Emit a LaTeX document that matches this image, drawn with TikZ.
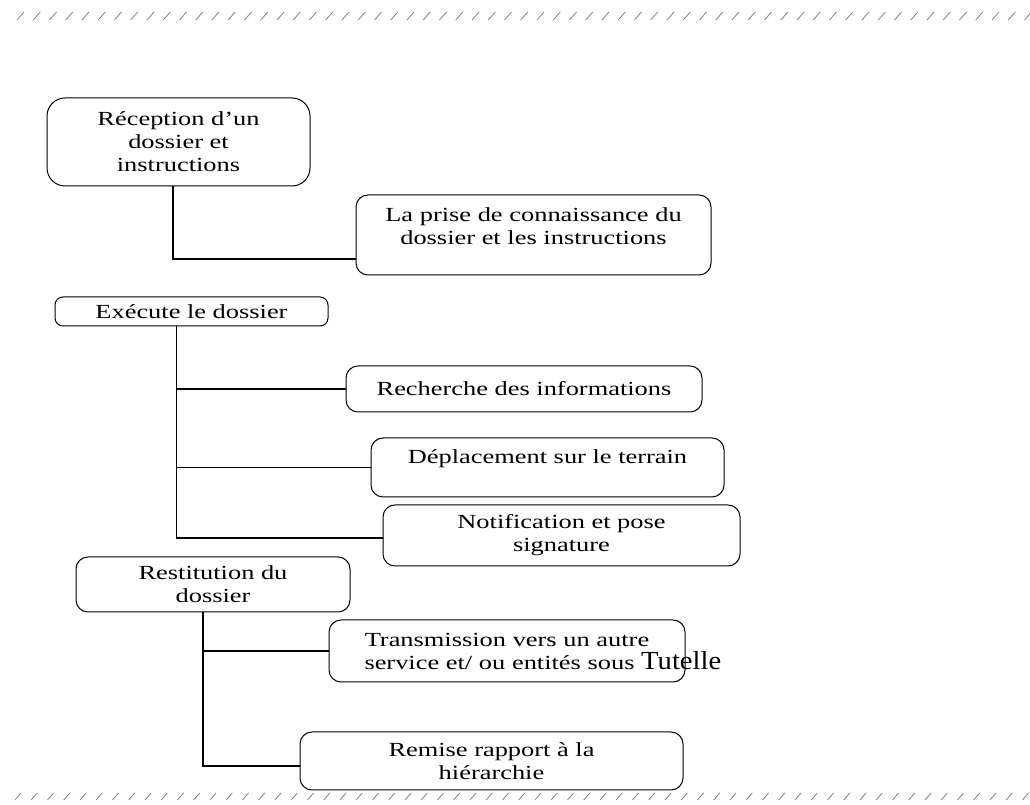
\documentclass[tikz,border=0pt]{standalone}
\usepackage{fontspec}
\setmainfont[FakeStretch=1.32]{Liberation Serif}
\newfontfamily\tutfont[FakeStretch=1.1]{Liberation Serif}
\usetikzlibrary{calc}

\begin{document}
\begin{tikzpicture}[x=1pt,y=1pt]
  \tikzset{box/.style={draw, rounded corners=12pt, align=center, inner sep=0pt, line width=1pt,
                       font=\fontsize{20}{23}\selectfont},
           lift/.style={text height=14pt, text depth=#1},
           link/.style={line width=1.3pt},
           hatch/.style={gray, line width=0.8pt}}
  \useasboundingbox (0,0) rectangle (1030,805);
  % page border rows
  \foreach \i in {0,...,62} {
    \draw[hatch] (17+16.25*\i,785) -- ++(7,8);
    \draw[hatch] (15+16.25*\i,5) -- ++(6,7);
  }
  % boxes
  \node[box, rounded corners=18pt, minimum width=263, minimum height=88] (recep) at (178.5,663) {Réception d’un\\dossier et\\instructions};
  \node[box, minimum width=355, minimum height=80, text width=330pt, lift=40pt] (prise) at (533.5,570) {La prise de connaissance du\\dossier et les instructions};
  \node[box, rounded corners=8pt, minimum width=273, minimum height=29] (exec) at (191.5,493.5) {Exécute le dossier};
  \node[box, minimum width=356, minimum height=46] (rech) at (524,416) {Recherche des informations};
  \node[box, minimum width=353, minimum height=59, lift=22pt] (depl) at (547.5,337.5) {Déplacement sur le terrain};
  \node[box, minimum width=357, minimum height=61] (notif) at (561.5,269.5) {Notification et pose\\signature};
  \node[box, minimum width=274, minimum height=55] (resti) at (213,220.5) {Restitution du\\dossier};
  \node[box, minimum width=356, minimum height=62, text width=330pt, lift=22pt] (trans) at (507,154) {Transmission vers un autre\\\makebox[285pt][l]{service et/ ou entités sous {\tutfont\fontsize{26}{23}\selectfont Tutelle}}};
  \node[box, minimum width=383, minimum height=58] (remise) at (491.5,44) {Remise rapport à la\\hiérarchie};
  % connectors
  \draw[link] ([xshift=-5.5pt]recep.south) |- ([yshift=-24pt]prise.west);
  \coordinate (execstem) at ([xshift=-15pt]exec.south);
  \draw[link] (execstem) |- ([yshift=-2.5pt]notif.west);
  \draw[link] (execstem |- rech.west) -- (rech.west);
  \draw[link] (execstem |- depl.west) -- (depl.west);
  \coordinate (restistem) at ([xshift=-10pt]resti.south);
  \draw[link] (restistem) |- ([yshift=-5pt]remise.west);
  \draw[link] (restistem |- trans.west) -- (trans.west);
\end{tikzpicture}
\end{document}
